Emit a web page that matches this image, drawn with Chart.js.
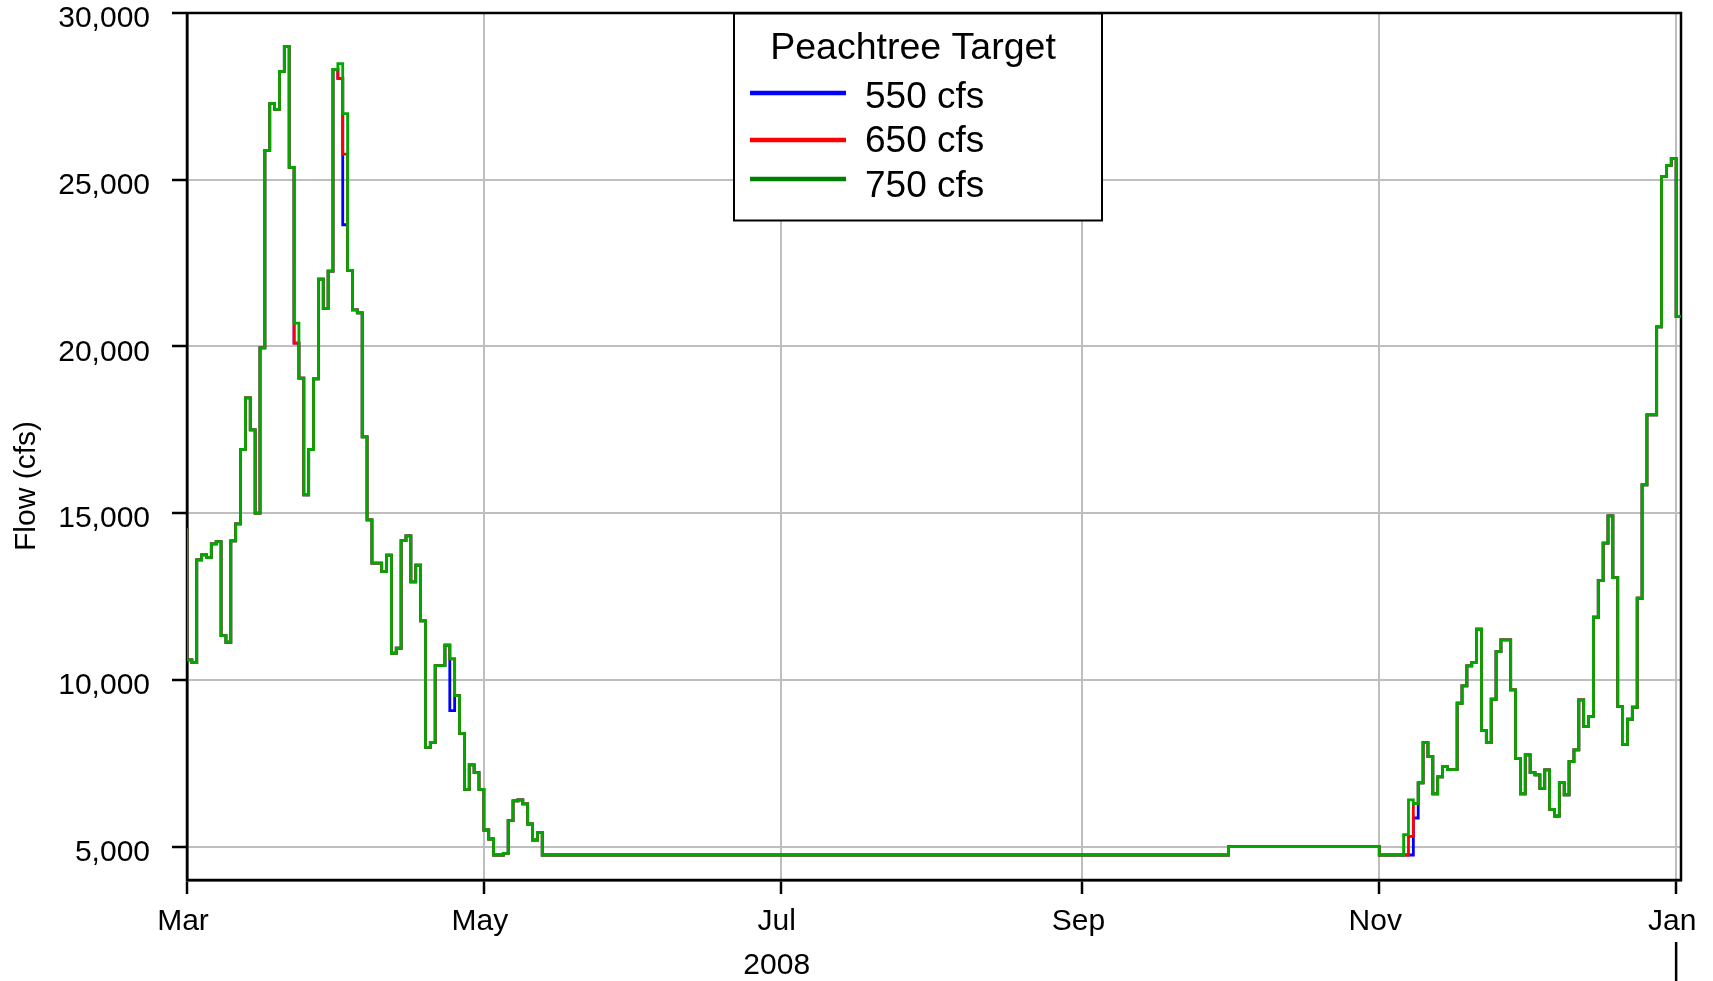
<!DOCTYPE html>
<html><head><meta charset="utf-8">
<script src="https://cdn.jsdelivr.net/npm/chart.js@4.4.1/dist/chart.umd.min.js"></script>
<style>html,body{margin:0;padding:0;background:#fff;overflow:hidden}</style>
</head><body>
<canvas id="c" width="1713" height="981"></canvas>
<script>
// Day offsets from 1 Mar 2008 at which any series changes value (step changes)
const flowDay = [-1,0,1,2,3,4,5,6,7,8,9,10,11,12,13,14,15,16,17,18,19,20,21,22,23,24,25,26,27,28,29,30,31,32,33,34,35,36,37,38,39,40,41,42,43,44,45,46,47,48,49,50,51,52,53,54,55,56,57,58,59,60,61,62,63,64,65,66,67,68,69,70,71,72,73,214,245,250,251,252,253,254,255,256,257,258,259,260,261,262,263,264,265,266,267,268,269,270,271,272,273,274,275,276,277,278,279,280,281,282,283,284,285,286,287,288,289,290,291,292,293,294,295,296,297,298,299,300,301,302,303,304,305,306,307];

const flow750 = [14500,10600,10520,13600,13750,13670,14080,14150,11330,11130,14170,14680,16910,18460,17500,15000,19960,25880,27290,27110,28250,29000,25370,20700,19050,15550,16910,19030,22020,21140,22260,28310,28480,26980,22280,21100,21010,17290,14800,13500,13500,13250,13740,10800,10950,14180,14320,12940,13440,11770,7980,8130,10430,10430,11040,10630,9530,8400,6720,7450,7220,6720,5500,5230,4750,4750,4800,5780,6370,6400,6280,5680,5200,5430,4750,5000,4750,5360,6400,6290,6910,8120,7700,6580,7090,7410,7310,7310,9300,9820,10420,10520,11520,8480,8120,9420,10850,11200,11200,9700,7650,6580,7750,7220,7150,6750,7300,6120,5920,6930,6550,7550,7900,9400,8600,8900,11880,12980,14100,14920,13070,9200,8070,8820,9180,12450,15850,17950,17950,20590,25100,25430,25630,20900,20900];

const flow650 = [14500,10600,10520,13600,13750,13670,14080,14150,11330,11130,14170,14680,16910,18460,17500,15000,19960,25880,27290,27110,28250,29000,25370,20100,19050,15550,16910,19030,22020,21140,22260,28310,28040,25770,22280,21100,21010,17290,14800,13500,13500,13250,13740,10800,10950,14180,14320,12940,13440,11770,7980,8130,10430,10430,11040,10630,9530,8400,6720,7450,7220,6720,5500,5230,4750,4750,4800,5780,6370,6400,6280,5680,5200,5430,4750,5000,4750,4750,5310,6290,6910,8120,7700,6580,7090,7410,7310,7310,9300,9820,10420,10520,11520,8480,8120,9420,10850,11200,11200,9700,7650,6580,7750,7220,7150,6750,7300,6120,5920,6930,6550,7550,7900,9400,8600,8900,11880,12980,14100,14920,13070,9200,8070,8820,9180,12450,15850,17950,17950,20590,25100,25430,25630,20900,20900];

const flow550 = [14500,10600,10520,13600,13750,13670,14080,14150,11330,11130,14170,14680,16910,18460,17500,15000,19960,25880,27290,27110,28250,29000,25370,20100,19050,15550,16910,19030,22020,21140,22260,28310,28040,23650,22280,21100,21010,17290,14800,13500,13500,13250,13740,10800,10950,14180,14320,12940,13440,11770,7980,8130,10430,10430,11040,9080,9530,8400,6720,7450,7220,6720,5500,5230,4750,4750,4800,5780,6370,6400,6280,5680,5200,5430,4750,5000,4750,4750,4750,5860,6910,8120,7700,6580,7090,7410,7310,7310,9300,9820,10420,10520,11520,8480,8120,9420,10850,11200,11200,9700,7650,6580,7750,7220,7150,6750,7300,6120,5920,6930,6550,7550,7900,9400,8600,8900,11880,12980,14100,14920,13070,9200,8070,8820,9180,12450,15850,17950,17950,20590,25100,25430,25630,20900,20900];

const seriesNames = ['550 cfs', '650 cfs', '750 cfs'];
const legendTitle = 'Peachtree Target';
const monthTickDays = [0, 61, 122, 184, 245, 306];
const monthTickLabels = ['Mar', 'May', 'Jul', 'Sep', 'Nov', 'Jan'];
const flowTicks = [5000, 10000, 15000, 20000, 25000, 30000];
const yAxisTitle = 'Flow (cfs)';
const yearLabel = '2008';
const yearLabelDay = 122;
const yearBoundaryDay = 306;

const FONT = '"Liberation Sans", Arial, Helvetica, sans-serif';
const lineColors = ['#0000FF', '#FF0000', '#00A800'];
const legendColors = ['#0000FF', '#FF0000', '#008000'];

function pts(vals) { return flowDay.map((d, i) => ({ x: d, y: vals[i] })); }

const annot = {
  id: 'annot',
  beforeDatasetsDraw(chart) {
    const { ctx, chartArea: a } = chart;
    ctx.save();
    ctx.strokeStyle = '#000';
    ctx.lineWidth = 2.5;
    ctx.strokeRect(a.left, a.top, a.right - a.left, a.bottom - a.top);
    ctx.restore();
  },
  afterDraw(chart) {
    const { ctx, scales: { x } } = chart;
    ctx.save();
    ctx.fillStyle = '#000';
    // y axis title
    ctx.save();
    ctx.translate(27, 486);
    ctx.rotate(-Math.PI / 2);
    ctx.font = '30px ' + FONT;
    ctx.textAlign = 'center';
    ctx.textBaseline = 'middle';
    ctx.fillText(yAxisTitle, 0, 0);
    ctx.restore();
    // year label and separator
    ctx.font = '30px ' + FONT;
    ctx.textAlign = 'center';
    ctx.textBaseline = 'middle';
    ctx.fillText(yearLabel, x.getPixelForValue(yearLabelDay) - 4, 966);
    const xb = x.getPixelForValue(yearBoundaryDay);
    ctx.strokeStyle = '#000';
    ctx.lineWidth = 2.5;
    ctx.beginPath();
    ctx.moveTo(xb, 942);
    ctx.lineTo(xb, 981);
    ctx.stroke();
    // legend box
    const bx = 734, by = 13.5, bw = 368, bh = 207;
    ctx.fillStyle = '#fff';
    ctx.fillRect(bx, by, bw, bh);
    ctx.strokeStyle = '#000';
    ctx.lineWidth = 2;
    ctx.strokeRect(bx, by, bw, bh);
    ctx.fillStyle = '#000';
    ctx.font = '37.5px ' + FONT;
    ctx.textAlign = 'center';
    ctx.textBaseline = 'alphabetic';
    ctx.fillText(legendTitle, 913, 59);
    const lineYs = [93, 140, 179];
    const textYs = [108, 152, 197];
    ctx.textAlign = 'left';
    ctx.font = '37px ' + FONT;
    seriesNames.forEach((n, i) => {
      ctx.strokeStyle = legendColors[i];
      ctx.lineWidth = 4.5;
      ctx.beginPath();
      ctx.moveTo(750, lineYs[i]);
      ctx.lineTo(846, lineYs[i]);
      ctx.stroke();
      ctx.fillText(n, 865, textYs[i]);
    });
    ctx.restore();
  }
};

new Chart(document.getElementById('c'), {
  type: 'line',
  data: {
    datasets: [
      { label: seriesNames[0], data: pts(flow550), borderColor: lineColors[0], order: 3 },
      { label: seriesNames[1], data: pts(flow650), borderColor: lineColors[1], order: 2 },
      { label: seriesNames[2], data: pts(flow750), borderColor: lineColors[2], order: 1 }
    ]
  },
  options: {
    responsive: false,
    animation: false,
    devicePixelRatio: 1,
    layout: { padding: { left: 0, right: 32, top: 13, bottom: 0 } },
    datasets: { line: { stepped: true, borderWidth: 2.8, pointRadius: 0, fill: false, tension: 0 } },
    plugins: { legend: { display: false }, tooltip: { enabled: false } },
    scales: {
      x: {
        type: 'linear',
        min: 0,
        max: 307,
        afterBuildTicks: s => { s.ticks = monthTickDays.map(v => ({ value: v })); },
        afterFit: s => { s.height = 101; s.paddingLeft = 0; s.paddingRight = 0; },
        grid: { color: '#BEBEBE', lineWidth: 2, tickColor: '#000', tickWidth: 2.5, tickLength: 14, drawTicks: true },
        border: { display: true, color: '#000', width: 2.5 },
        ticks: {
          autoSkip: false, maxRotation: 0, minRotation: 0,
          padding: 10, labelOffset: -4, color: '#000',
          font: { family: FONT, size: 30 },
          callback: v => monthTickLabels[monthTickDays.indexOf(v)]
        }
      },
      y: {
        type: 'linear',
        min: 4000,
        max: 30000,
        afterBuildTicks: s => { s.ticks = flowTicks.map(v => ({ value: v })); },
        afterFit: s => { s.width = 187; s.paddingTop = 0; s.paddingBottom = 0; },
        grid: { color: '#BEBEBE', lineWidth: 2, tickColor: '#000', tickWidth: 2.5, tickLength: 15, drawTicks: true },
        border: { display: true, color: '#000', width: 2.5 },
        ticks: {
          padding: 22, labelOffset: 6, color: '#000',
          font: { family: FONT, size: 30 },
          callback: v => v.toLocaleString('en-US')
        }
      }
    }
  },
  plugins: [annot]
});
</script>
</body></html>
